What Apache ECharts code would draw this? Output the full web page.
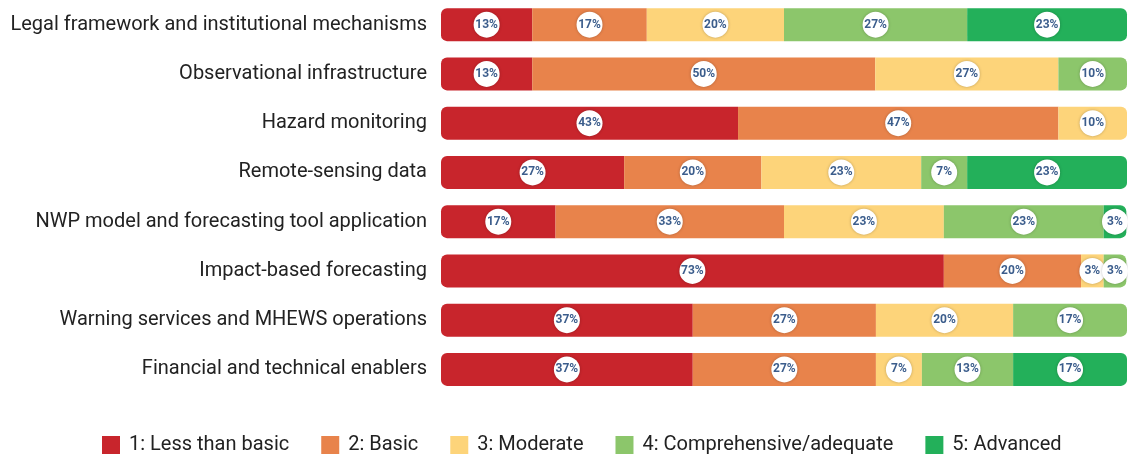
<!DOCTYPE html>
<html>
<head>
<meta charset="utf-8">
<script src="https://cdn.jsdelivr.net/npm/echarts@6/dist/echarts.min.js"></script>
<style>
  html, body { margin: 0; padding: 0; background: #fff; }
  #chart { width: 1128px; height: 459px; }
</style>
</head>
<body>
<div id="chart"></div>
<script>
    // rows, top to bottom
    const categories = ['Legal framework and institutional mechanisms', 'Observational infrastructure', 'Hazard monitoring',
        'Remote-sensing data', 'NWP model and forecasting tool application', 'Impact-based forecasting',
        'Warning services and MHEWS operations', 'Financial and technical enablers'];
    const levels = ['1: Less than basic', '2: Basic', '3: Moderate', '4: Comprehensive/adequate', '5: Advanced'];
    const colors = ['#c8252c', '#e8834b', '#fdd47a', '#8cc66b', '#23b05a'];
    // share of respondents (%) per level
    const lessThanBasic = [13.3, 13.3, 43.3, 26.7, 16.7, 73.3, 36.7, 36.7];
    const basic         = [16.7, 50.0, 46.7, 20.0, 33.3, 20.0, 26.7, 26.7];
    const moderate      = [20.0, 26.7, 10.0, 23.3, 23.3, 3.3, 20.0, 6.7];
    const comprehensive = [26.7, 10.0, 0, 6.7, 23.3, 3.3, 16.7, 13.3];
    const advanced      = [23.3, 0, 0, 23.3, 3.3, 0, 0, 16.7];
    const values = [lessThanBasic, basic, moderate, comprehensive, advanced];

    const R = 6;
    let series = levels.map(function (name, s) {
        return {
            name: name,
            type: 'bar',
            stack: 'all',
            barWidth: 33,
            itemStyle: {color: colors[s]},
            label: {
                show: true,
                position: 'inside',
                formatter: function (p) { return Math.round(p.value) + '%'; },
                color: '#3b5d8c',
                fontFamily: 'Roboto',
                fontWeight: 'bold',
                fontSize: 12,
                backgroundColor: '#fff',
                width: 26,
                height: 26,
                lineHeight: 26,
                align: 'center',
                borderRadius: 13,
                shadowColor: 'rgba(0,0,0,0.25)',
                shadowBlur: 3
            },
            data: values[s].map(function (v, i) {
                if (!v) return {value: 0, label: {show: false}};
                // round the outer ends of each row
                let first = true, last = true;
                for (let k = 0; k < s; k++) if (values[k][i]) first = false;
                for (let k = s + 1; k < values.length; k++) if (values[k][i]) last = false;
                return {value: v, itemStyle: {borderRadius: [first ? R : 0, last ? R : 0, last ? R : 0, first ? R : 0]}};
            })
        };
    });

    let myChart = echarts.init(document.getElementById('chart'));
    let option = {
        animation: false,
        grid: {
            top: 0,
            left: 441,
            right: 1,
            height: 394
        },
        xAxis: {
            type: 'value',
            min: 0,
            max: 100,
            show: false
        },
        yAxis: {
            type: 'category',
            data: categories,
            inverse: true,
            axisLine: {show: false},
            axisTick: {show: false},
            axisLabel: {
                margin: 14,
                color: '#222',
                fontFamily: 'Roboto',
                fontSize: 20
            }
        },
        legend: {
            top: 430,
            left: 97,
            itemWidth: 18,
            itemHeight: 18,
            itemGap: 32,
            icon: 'rect',
            textStyle: {
                color: '#222',
                fontFamily: 'Roboto',
                fontSize: 20,
                padding: [0, 0, 0, 4]
            },
            data: levels
        },
        series: series
    };
    myChart.setOption(option, true);
</script>
</body>
</html>
